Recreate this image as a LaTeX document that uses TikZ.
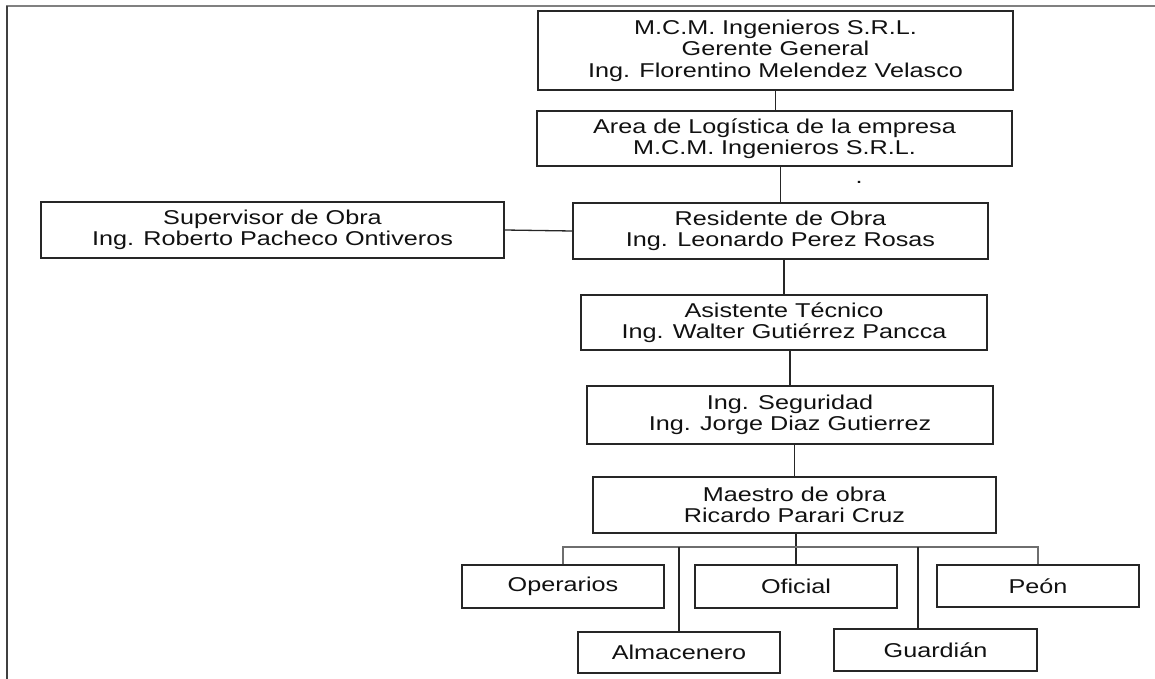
\documentclass[tikz,border=0pt]{standalone}
\usepackage{fontspec}
\setmainfont{Liberation Sans}[FakeStretch=1.26]
\usetikzlibrary{calc}
\definecolor{boxc}{HTML}{262626}
\definecolor{textc}{HTML}{111111}
\definecolor{busc}{HTML}{6E6E6E}
\definecolor{framet}{HTML}{808080}
\definecolor{framel}{HTML}{404040}
\tikzset{
  orgbox/.style={draw=boxc, line width=1.4pt, inner sep=0pt, align=center,
    text=textc, font=\fontsize{20}{21.5}\selectfont},
  link/.style={draw=boxc, line width=1.3pt},
  buslink/.style={draw=busc, line width=1.3pt},
}
\begin{document}
\begin{tikzpicture}[x=1pt,y=-1pt]
\useasboundingbox (0,0) rectangle (1155,679);
% frame
\draw[framet, line width=2pt] (6,6) -- (1155,6);
\draw[framel, line width=1.5pt] (7,6) -- (7,679);
% boxes
\node[orgbox, minimum width=475pt, minimum height=79pt] (top) at (775.5,50.5)
  {M.C.M. Ingenieros S.R.L.\\Gerente General\\Ing. Florentino Melendez Velasco};
\node[orgbox, minimum width=475pt, minimum height=55pt] (area) at (774.5,138.5)
  {Area de Logística de la empresa\\M.C.M. Ingenieros S.R.L.};
\node[orgbox, minimum width=463pt, minimum height=56pt] (sup) at (272.5,230)
  {Supervisor de Obra\\Ing. Roberto Pacheco Ontiveros};
\node[orgbox, minimum width=415pt, minimum height=56pt] (res) at (780.5,231)
  {Residente de Obra\\Ing. Leonardo Perez Rosas};
\node[orgbox, minimum width=406pt, minimum height=55pt] (asi) at (784,322.5)
  {Asistente Técnico\\Ing. Walter Gutiérrez Pancca};
\node[orgbox, minimum width=406pt, minimum height=58pt] (seg) at (790,415)
  {Ing. Seguridad\\Ing. Jorge Diaz Gutierrez};
\node[orgbox, minimum width=403pt, minimum height=56pt] (mae) at (794.5,505)
  {Maestro de obra\\Ricardo Parari Cruz};
\node[orgbox, minimum width=202pt, minimum height=43pt] (ope) at (563,586.5) {Operarios};
\node[orgbox, minimum width=202pt, minimum height=43pt] (ofi) at (796,586.5) {Oficial};
\node[orgbox, minimum width=202pt, minimum height=42pt] (peo) at (1038,586) {Peón};
\node[orgbox, minimum width=202pt, minimum height=41pt] (alm) at (679,652.5) {Almacenero};
\node[orgbox, minimum width=203pt, minimum height=42pt] (gua) at (935.5,650) {Guardián};
\node[anchor=base, inner sep=0pt, text=textc, font=\fontsize{20}{21.5}\selectfont] (dot) at (859,183) {.};
% connectors
\draw[link] (top.south) -- (top.south |- area.north);
\draw[link] (res.north) -- (res.north |- area.south);
\draw[link] (sup.east) -- (res.west);
\draw[link] (asi.north) -- (asi.north |- res.south);
\draw[link] (seg.north) -- (seg.north |- asi.south);
\draw[link] (mae.north) -- (mae.north |- seg.south);
\coordinate (bus) at (0,547);
\draw[link] (ofi.north) -- (ofi.north |- mae.south);
\draw[buslink] (ope.north) -- (ope.north |- bus) -- (peo.north |- bus) -- (peo.north);
\draw[link] (alm.north) -- (alm.north |- bus);
\coordinate (guaTop) at ($(gua.north)+(-17.5,0)$);
\draw[link] (guaTop) -- (guaTop |- bus);
\end{tikzpicture}
\end{document}
